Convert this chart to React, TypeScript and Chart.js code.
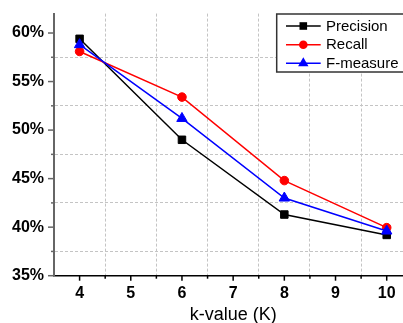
import React, { useEffect, useRef } from 'react';
import { Chart, registerables } from 'chart.js';

Chart.register(...registerables);

const kValues = [4, 6, 8, 10];
const precision = [59.4, 49.0, 41.3, 39.2];
const recall = [58.1, 53.4, 44.8, 39.95];
const fMeasure = [58.8, 51.2, 43.0, 39.6];
const seriesLabels = ['Precision', 'Recall', 'F-measure'];
const seriesColors = ['#000000', '#ff0000', '#0000ff'];
const seriesMarkers = ['rect', 'circle', 'triangle'];
const xTickValues = [3.5, 4, 4.5, 5, 5.5, 6, 6.5, 7, 7.5, 8, 8.5, 9, 9.5, 10, 10.5];
const yTickValues = [35, 37.5, 40, 42.5, 45, 47.5, 50, 52.5, 55, 57.5, 60];

const FONT = '"Liberation Sans", Arial, sans-serif';
const GRID = '#c4c4c4';
const CLEAR = 'rgba(0,0,0,0)';

function drawMarker(ctx: CanvasRenderingContext2D, kind: string, x: number, y: number, color: string) {
  ctx.fillStyle = color;
  ctx.beginPath();
  if (kind === 'rect') {
    ctx.rect(x - 3.8, y - 3.8, 7.6, 7.6);
  } else if (kind === 'circle') {
    ctx.arc(x, y, 4.3, 0, Math.PI * 2);
  } else {
    const r = 6;
    ctx.moveTo(x, y - r);
    ctx.lineTo(x + r * 0.866, y + r * 0.5);
    ctx.lineTo(x - r * 0.866, y + r * 0.5);
    ctx.closePath();
  }
  ctx.fill();
}

const tickMarksPlugin = {
  id: 'tickMarks',
  afterDraw(chart: any) {
    const ctx = chart.ctx as CanvasRenderingContext2D;
    const area = chart.chartArea;
    const xs = chart.scales.x;
    const ys = chart.scales.y;
    ctx.save();
    ctx.lineWidth = 1.5;
    ctx.strokeStyle = '#000';
    xTickValues.forEach((v) => {
      if (v === xs.min || v === xs.max) return;
      const px = xs.getPixelForValue(v);
      const len = Number.isInteger(v) ? 5 : 3;
      ctx.beginPath();
      ctx.moveTo(px, area.bottom);
      ctx.lineTo(px, area.bottom + len);
      ctx.stroke();
    });
    ctx.strokeStyle = '#666';
    yTickValues.forEach((v) => {
      const py = ys.getPixelForValue(v);
      const len = v % 5 === 0 ? 6 : 3;
      ctx.beginPath();
      ctx.moveTo(area.left, py);
      ctx.lineTo(area.left - len, py);
      ctx.stroke();
    });
    ctx.restore();
  },
};

const legendPlugin = {
  id: 'boxLegend',
  afterDraw(chart: any) {
    const ctx = chart.ctx as CanvasRenderingContext2D;
    ctx.save();
    const bx = 276.7, by = 14, bw = 130, bh = 58;
    ctx.fillStyle = '#fff';
    ctx.fillRect(bx, by, bw, bh);
    ctx.strokeStyle = '#333';
    ctx.lineWidth = 1.5;
    ctx.strokeRect(bx, by, bw, bh);
    const rows = [26, 44.7, 63.3];
    chart.data.datasets.forEach((ds: any, i: number) => {
      const y = rows[i];
      ctx.strokeStyle = ds.borderColor;
      ctx.lineWidth = 1.5;
      ctx.beginPath();
      ctx.moveTo(286, y);
      ctx.lineTo(320.7, y);
      ctx.stroke();
      drawMarker(ctx, seriesMarkers[i], 303.3, y, ds.borderColor);
      ctx.fillStyle = '#000';
      ctx.font = `15px ${FONT}`;
      ctx.textBaseline = 'middle';
      ctx.textAlign = 'left';
      ctx.fillText(ds.label, 326, y + 0.5);
    });
    ctx.restore();
  },
};

export default function App() {
  const ref = useRef<HTMLCanvasElement | null>(null);

  useEffect(() => {
    if (!ref.current) return;
    const series = [precision, recall, fMeasure];
    const radii = [5.3, 4.3, 6];
    const chart = new Chart(ref.current, {
      type: 'line',
      data: {
        datasets: series.map((vals, i) => ({
          label: seriesLabels[i],
          data: kValues.map((k, j) => ({ x: k, y: vals[j] })),
          borderColor: seriesColors[i],
          backgroundColor: seriesColors[i],
          pointBackgroundColor: seriesColors[i],
          pointBorderColor: seriesColors[i],
          pointStyle: seriesMarkers[i] as any,
          pointRadius: radii[i],
          pointBorderWidth: 1,
          borderWidth: 1.5,
          tension: 0,
          order: 3 - i,
        })),
      },
      options: {
        responsive: false,
        animation: false,
        devicePixelRatio: 1,
        layout: { padding: { left: 0, right: 17.7, top: 10, bottom: 0 } },
        plugins: { legend: { display: false }, tooltip: { enabled: false } },
        scales: {
          x: {
            type: 'linear',
            min: 3.5,
            max: 10.5,
            afterBuildTicks: (s: any) => {
              s.ticks = xTickValues.map((v) => ({ value: v }));
            },
            afterFit: (s: any) => {
              s.height = 47.3;
            },
            ticks: {
              autoSkip: false,
              maxRotation: 0,
              padding: 2,
              color: '#000',
              font: { family: FONT, size: 16, weight: 'bold' },
              callback: (v: any) => (Number.isInteger(v) ? String(v) : ''),
            },
            grid: {
              color: (c: any) => {
                const v = c.tick ? c.tick.value : 0;
                return !Number.isInteger(v) && v !== 3.5 && v !== 10.5 ? GRID : CLEAR;
              },
              lineWidth: 1,
              drawTicks: true,
              tickLength: 6,
              tickColor: CLEAR,
            },
            border: { display: true, color: '#000', width: 1.5, dash: [3, 2] },
            title: {
              display: true,
              text: 'k-value (K)',
              color: '#000',
              font: { family: FONT, size: 18, lineHeight: 1.0 },
              padding: { top: 0, bottom: -1 },
            },
          },
          y: {
            type: 'linear',
            min: 35,
            max: 62,
            afterBuildTicks: (s: any) => {
              s.ticks = yTickValues.map((v) => ({ value: v }));
            },
            afterFit: (s: any) => {
              s.width = 54;
            },
            ticks: {
              autoSkip: false,
              padding: 4,
              color: '#000',
              font: { family: FONT, size: 16, weight: 'bold' },
              callback: (v: any) => (v % 5 === 0 ? `${v}%` : ''),
            },
            grid: {
              color: (c: any) => {
                const v = c.tick ? c.tick.value : 0;
                return v % 5 !== 0 ? GRID : CLEAR;
              },
              lineWidth: 1,
              drawTicks: true,
              tickLength: 6,
              tickColor: CLEAR,
            },
            border: { display: true, color: '#666', width: 2, dash: [3, 2] },
          },
        },
      },
      plugins: [tickMarksPlugin, legendPlugin],
    });
    return () => chart.destroy();
  }, []);

  return (
    <div
      style={{
        position: 'fixed',
        left: 0,
        top: 0,
        width: 403,
        height: 323,
        overflow: 'hidden',
        background: '#fff',
      }}
    >
      <canvas ref={ref} width={430} height={323} style={{ display: 'block', width: 430, height: 323 }} />
    </div>
  );
}
